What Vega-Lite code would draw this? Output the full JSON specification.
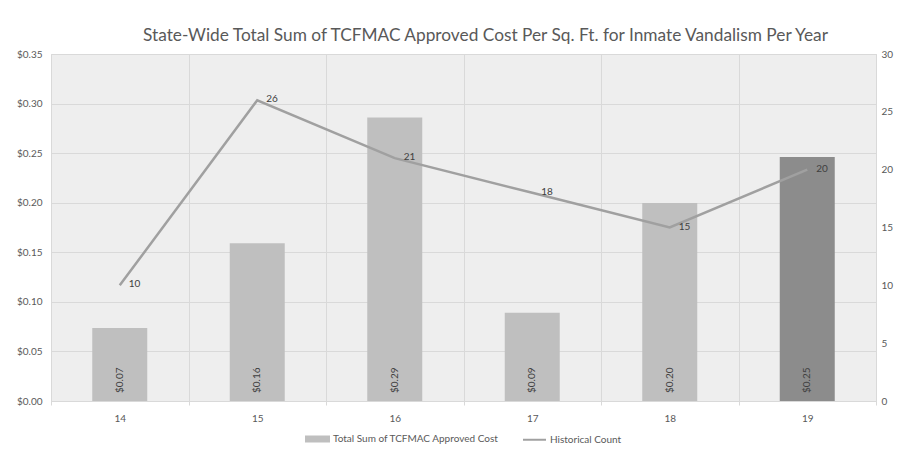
{
  "$schema": "https://vega.github.io/schema/vega-lite/v6.json",
  "width": 825,
  "height": 347,
  "autosize": "none",
  "padding": {"left": 51, "top": 54, "right": 22, "bottom": 54},
  "background": "white",
  "title": {
    "text": "State-Wide Total Sum of TCFMAC Approved Cost Per Sq. Ft. for Inmate Vandalism Per Year",
    "font": "Lato",
    "fontSize": 17.3,
    "fontWeight": "normal",
    "color": "#595959",
    "anchor": "middle",
    "dx": 22,
    "offset": 5
  },
  "config": {
    "view": {"fill": "#eeeeee", "stroke": "#d9d9d9", "strokeWidth": 1},
    "font": "Lato",
    "axis": {"labelFont": "Lato", "labelColor": "#595959", "labelFontSize": 10, "titleFont": "Lato"}
  },
  "data": {
    "values": [
      {"year": "14", "cost": 0.0736, "count": 10},
      {"year": "15", "cost": 0.159, "count": 26},
      {"year": "16", "cost": 0.286, "count": 21},
      {"year": "17", "cost": 0.089, "count": 18},
      {"year": "18", "cost": 0.1997, "count": 15},
      {"year": "19", "cost": 0.246, "count": 20}
    ]
  },
  "encoding": {
    "x": {
      "field": "year",
      "type": "ordinal",
      "scale": {"paddingInner": 0, "paddingOuter": 0},
      "axis": {
        "title": null,
        "labelAngle": 0,
        "tickBand": "extent",
        "grid": true,
        "gridColor": "#d9d9d9",
        "domain": true,
        "domainColor": "#d9d9d9",
        "ticks": true,
        "tickColor": "#d9d9d9",
        "tickSize": 4,
        "labelPadding": 8
      }
    }
  },
  "layer": [
    {
      "encoding": {
        "y": {
          "field": "cost",
          "type": "quantitative",
          "scale": {"domain": [0, 0.35], "nice": false},
          "axis": {
            "title": null,
            "format": "$.2f",
            "values": [0, 0.05, 0.1, 0.15, 0.2, 0.25, 0.3, 0.35],
            "domain": false,
            "ticks": false,
            "labelPadding": 9,
            "grid": true,
            "gridColor": "#d9d9d9"
          }
        }
      },
      "layer": [
        {
          "mark": {"type": "bar", "width": {"band": 0.4}},
          "encoding": {
            "color": {
              "condition": {"test": "datum.year == '19'", "value": "#8c8c8c"},
              "datum": "Total Sum of TCFMAC Approved Cost",
              "scale": {
                "domain": ["Total Sum of TCFMAC Approved Cost", "Historical Count"],
                "range": ["#bfbfbf", "#a0a0a0"]
              },
              "legend": {
                "title": null,
                "orient": "none",
                "legendX": 254,
                "legendY": 372,
                "direction": "horizontal",
                "labelFont": "Lato",
                "labelFontSize": 10,
                "labelColor": "#595959",
                "labelLimit": 400,
                "symbolSize": 529,
                "labelOffset": 3,
                "columnPadding": 20,
                "symbolStrokeWidth": 2,
                "encode": {
                  "symbols": {
                    "update": {
                      "shape": {"signal": "datum.value == 'Historical Count' ? 'M-1,0H1' : 'M-1,-0.22H1V0.22H-1Z'"},
                      "fill": {"signal": "datum.value == 'Historical Count' ? 'transparent' : '#bfbfbf'"},
                      "stroke": {"signal": "datum.value == 'Historical Count' ? '#a0a0a0' : 'transparent'"},
                      "strokeWidth": {"value": 2}
                    }
                  }
                }
              }
            }
          }
        },
        {
          "mark": {"type": "text", "angle": 270, "align": "left", "baseline": "middle", "dx": 8, "fontSize": 10, "font": "Lato", "color": "#404040"},
          "encoding": {
            "y": {"datum": 0},
            "text": {"field": "cost", "type": "quantitative", "format": "$.2f"}
          }
        }
      ]
    },
    {
      "encoding": {
        "y": {
          "field": "count",
          "type": "quantitative",
          "scale": {"domain": [0, 30], "nice": false},
          "axis": {
            "title": null,
            "orient": "right",
            "values": [0, 5, 10, 15, 20, 25, 30],
            "domain": false,
            "ticks": false,
            "grid": false,
            "labelPadding": 5
          }
        }
      },
      "layer": [
        {
          "mark": {"type": "line", "strokeWidth": 2.5},
          "encoding": {
            "color": {"datum": "Historical Count"}
          }
        },
        {
          "mark": {"type": "text", "align": "left", "baseline": "middle", "dx": 9, "dy": -1, "fontSize": 10, "font": "Lato", "color": "#404040"},
          "encoding": {
            "text": {"field": "count", "type": "quantitative"}
          }
        }
      ]
    }
  ],
  "resolve": {"scale": {"y": "independent"}}
}
